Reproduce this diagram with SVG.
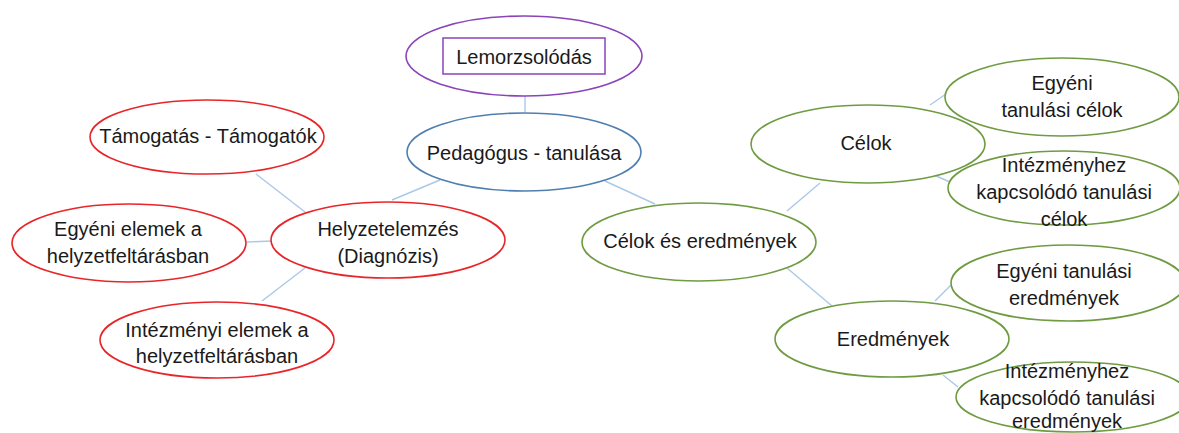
<svg xmlns="http://www.w3.org/2000/svg" width="1179" height="433" viewBox="0 0 1179 433">
<style>
.e{fill:#fff;stroke-width:1.6}
.red{stroke:#e8262a}
.pur{stroke:#8a44b8}
.blu{stroke:#4f7fb0}
.grn{stroke:#6f9b42}
.t{font-family:"Liberation Sans",Arial,sans-serif;font-size:20px;fill:#1a1a1a;text-anchor:middle}
.c{stroke:#a9c9e8;stroke-width:1.4;fill:none}
</style>
<rect width="1179" height="433" fill="#fff"/>
<g id="connectors">
<line class="c" x1="525" y1="96" x2="525" y2="112"/>
<line class="c" x1="392" y1="200" x2="440" y2="180"/>
<line class="c" x1="256" y1="174" x2="305" y2="212"/>
<line class="c" x1="247" y1="242" x2="272" y2="241"/>
<line class="c" x1="262" y1="301" x2="305" y2="268"/>
<line class="c" x1="605" y1="181" x2="655" y2="204"/>
<line class="c" x1="787" y1="211" x2="820" y2="183"/>
<line class="c" x1="930" y1="105" x2="946" y2="94"/>
<line class="c" x1="934" y1="175" x2="952" y2="183"/>
<line class="c" x1="787" y1="268" x2="832" y2="306"/>
<line class="c" x1="935" y1="301" x2="951" y2="285"/>
<line class="c" x1="943" y1="375" x2="958" y2="387"/>
</g>
<g id="lemorzsolodas">
<ellipse class="e pur" cx="524" cy="56" rx="118" ry="40"/>
<rect x="443" y="38" width="162" height="36" fill="none" stroke="#8a44b8" stroke-width="1.5"/>
<text class="t" x="524" y="64">Lemorzsolódás</text>
</g>
<g id="pedagogus">
<ellipse class="e blu" cx="524" cy="152" rx="117" ry="39"/>
<text class="t" x="524" y="160">Pedagógus - tanulása</text>
</g>
<g id="tamogatas">
<ellipse class="e red" cx="207" cy="137" rx="117" ry="37"/>
<text class="t" x="208" y="143">Támogatás - Támogatók</text>
</g>
<g id="egyeni-elemek">
<ellipse class="e red" cx="129" cy="243" rx="117" ry="39"/>
<text class="t" x="128" y="236">Egyéni elemek a</text>
<text class="t" x="128" y="263">helyzetfeltárásban</text>
</g>
<g id="helyzetelemzes">
<ellipse class="e red" cx="388" cy="240" rx="117" ry="38"/>
<text class="t" x="388" y="236">Helyzetelemzés</text>
<text class="t" x="388" y="263">(Diagnózis)</text>
</g>
<g id="intezmenyi-elemek">
<ellipse class="e red" cx="217" cy="340" rx="117" ry="38"/>
<text class="t" x="217" y="337">Intézményi elemek a</text>
<text class="t" x="217" y="363">helyzetfeltárásban</text>
</g>
<g id="celok-es-eredmenyek">
<ellipse class="e grn" cx="699" cy="242" rx="117" ry="39"/>
<text class="t" x="700" y="248">Célok és eredmények</text>
</g>
<g id="celok">
<ellipse class="e grn" cx="868" cy="144" rx="117" ry="39"/>
<text class="t" x="866" y="150">Célok</text>
</g>
<g id="egyeni-celok">
<ellipse class="e grn" cx="1062" cy="97" rx="117" ry="39"/>
<text class="t" x="1062" y="90">Egyéni</text>
<text class="t" x="1062" y="117">tanulási célok</text>
</g>
<g id="intezmenyhez-celok">
<ellipse class="e grn" cx="1064" cy="188" rx="116" ry="37"/>
<text class="t" x="1064" y="172">Intézményhez</text>
<text class="t" x="1064" y="199">kapcsolódó tanulási</text>
<text class="t" x="1064" y="226">célok</text>
</g>
<g id="eredmenyek">
<ellipse class="e grn" cx="892" cy="339" rx="117" ry="38"/>
<text class="t" x="893" y="346">Eredmények</text>
</g>
<g id="egyeni-eredmenyek">
<ellipse class="e grn" cx="1068" cy="283" rx="117" ry="38"/>
<text class="t" x="1064" y="278">Egyéni tanulási</text>
<text class="t" x="1064" y="305">eredmények</text>
</g>
<g id="intezmenyhez-eredmenyek">
<ellipse class="e grn" cx="1073" cy="397" rx="117" ry="35"/>
<text class="t" x="1067" y="378">Intézményhez</text>
<text class="t" x="1067" y="405">kapcsolódó tanulási</text>
<text class="t" x="1067" y="428">eredmények</text>
</g>
</svg>
